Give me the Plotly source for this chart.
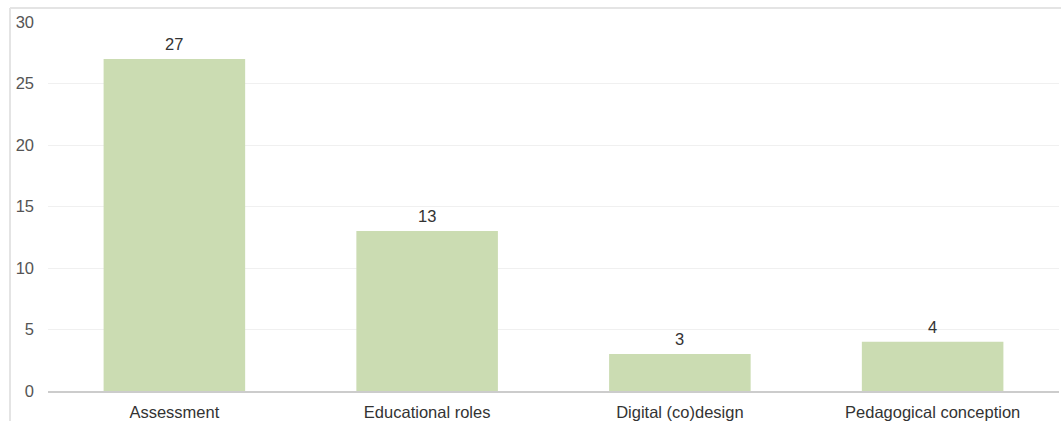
import plotly.graph_objects as go

categories = ["Assessment", "Educational roles", "Digital (co)design", "Pedagogical conception"]
counts = [27, 13, 3, 4]
y_ticks = [0, 5, 10, 15, 20, 25, 30]

W, H = 1061, 421
ML, MR, MT, MB = 48, 2, 22, 30
pw, ph = W - ML - MR, H - MT - MB
FONT = "Liberation Sans, Arial, sans-serif"


def px_to_paper_x(x):
    return (x - ML) / pw


def px_to_paper_y(y):
    return (H - MB - y) / ph


fig = go.Figure(
    go.Bar(
        x=categories,
        y=counts,
        marker=dict(color="#cbdcb2", line=dict(width=0)),
        hoverinfo="x+y",
    )
)

# value labels above each bar
for cat, val in zip(categories, counts):
    fig.add_annotation(
        x=cat,
        y=val,
        text=str(val),
        showarrow=False,
        yanchor="bottom",
        yshift=4,
        font=dict(family=FONT, size=16.5, color="#333333"),
    )

# outer frame of the chart card (left and top edges)
frame = dict(type="line", xref="paper", yref="paper", line=dict(color="#e4e4e4", width=2))
fig.add_shape(**frame, x0=px_to_paper_x(10), x1=px_to_paper_x(W + 5), y0=px_to_paper_y(8), y1=px_to_paper_y(8))
fig.add_shape(**frame, x0=px_to_paper_x(10), x1=px_to_paper_x(10), y0=px_to_paper_y(8), y1=px_to_paper_y(H + 5))

fig.update_layout(
    width=W,
    height=H,
    margin=dict(l=ML, r=MR, t=MT, b=MB),
    paper_bgcolor="white",
    plot_bgcolor="white",
    bargap=0.44,
    showlegend=False,
    font=dict(family=FONT, size=16.5, color="#333333"),
    xaxis=dict(
        showgrid=False,
        showline=True,
        linecolor="#cccccc",
        linewidth=1.5,
        ticks="",
        ticklabelstandoff=5,
        automargin=False,
        tickfont=dict(size=16.5, color="#333333"),
    ),
    yaxis=dict(
        range=[0, 30],
        tickvals=y_ticks,
        showgrid=True,
        gridcolor="#f0f0f0",
        gridwidth=1,
        zeroline=False,
        showline=False,
        ticks="",
        ticklabelstandoff=13,
        automargin=False,
        tickfont=dict(size=16.5, color="#555555"),
    ),
)

fig.write_html("out.html")
